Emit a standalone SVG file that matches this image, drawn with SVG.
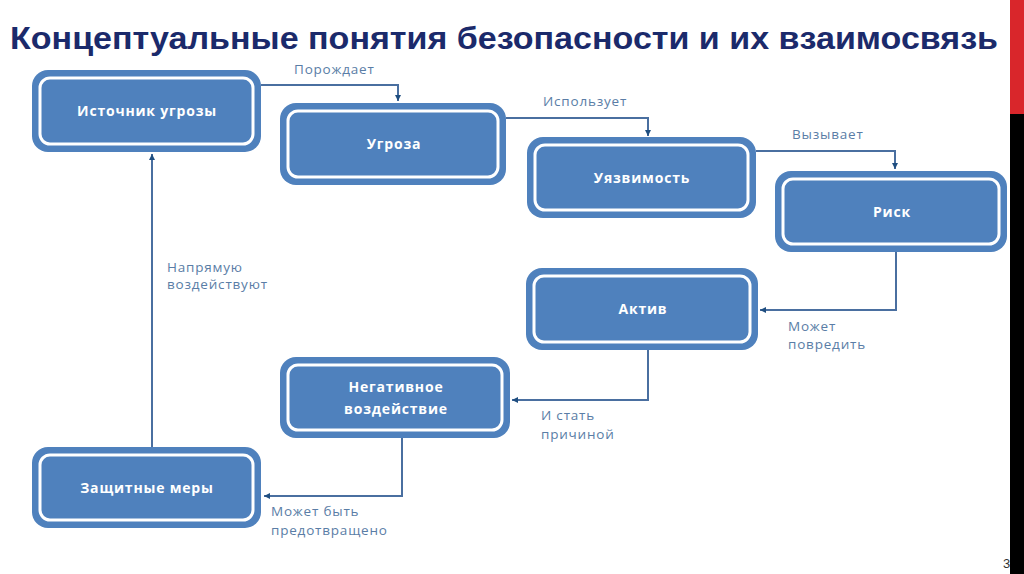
<svg xmlns="http://www.w3.org/2000/svg" width="1024" height="574" viewBox="0 0 1024 574">
<defs>
<style>
.o{fill:#4f81bd;}
.i{fill:#4f81bd;stroke:#ffffff;stroke-width:3;}
.t{font-family:"Open Sans","Liberation Sans",sans-serif;font-weight:bold;font-size:14px;letter-spacing:0.8px;fill:#ffffff;text-anchor:middle;}
.l{font-family:"Open Sans","Liberation Sans",sans-serif;font-size:13.5px;letter-spacing:0.8px;fill:#5a7da6;}
.c{fill:none;stroke:#4a6fa0;stroke-width:2;}
</style>
<marker id="a" viewBox="0 0 10 10" refX="10" refY="5" markerWidth="6" markerHeight="6" markerUnits="userSpaceOnUse" orient="auto">
<path d="M0,0 L10,5 L0,10 z" fill="#1f4e80"/>
</marker>
</defs>
<rect x="0" y="0" width="1024" height="574" fill="#ffffff"/>
<rect x="1010" y="0" width="14" height="114" fill="#d9262b"/>
<rect x="1010" y="114" width="14" height="460" fill="#000000"/>
<text x="1003" y="568" font-family="Liberation Sans,sans-serif" font-size="13" fill="#333333">3</text>
<text x="10" y="49" font-family="Liberation Sans,sans-serif" font-weight="bold" font-size="32" fill="#1b2a6b" textLength="988" lengthAdjust="spacingAndGlyphs">Концептуальные понятия безопасности и их взаимосвязь</text>

<g id="connectors">
<path class="c" d="M261,85 H398 V101" marker-end="url(#a)"/>
<path class="c" d="M506,118 H648 V136" marker-end="url(#a)"/>
<path class="c" d="M756,151 H895 V169" marker-end="url(#a)"/>
<path class="c" d="M896,252 V310 H760" marker-end="url(#a)"/>
<path class="c" d="M648,350 V400 H512" marker-end="url(#a)"/>
<path class="c" d="M402,438 V496 H264" marker-end="url(#a)"/>
<path class="c" d="M152,447 V154" marker-end="url(#a)"/>
<text class="l" x="294" y="74">Порождает</text>
<text class="l" x="543" y="106">Использует</text>
<text class="l" x="792" y="139">Вызывает</text>
<text class="l" x="788" y="331">Может</text>
<text class="l" x="788" y="349">повредить</text>
<text class="l" x="541" y="420">И стать</text>
<text class="l" x="541" y="439">причиной</text>
<text class="l" x="271" y="516">Может быть</text>
<text class="l" x="271" y="535">предотвращено</text>
<text class="l" x="167" y="272">Напрямую</text>
<text class="l" x="167" y="289">воздействуют</text>
</g>

<g id="n1">
<rect class="o" x="32" y="70" width="229" height="82" rx="16"/>
<rect class="i" x="40" y="78" width="213" height="66" rx="10"/>
<text class="t" x="147" y="116">Источник угрозы</text>
</g>
<g id="n2">
<rect class="o" x="280" y="103" width="226" height="82" rx="16"/>
<rect class="i" x="288" y="111" width="210" height="66" rx="10"/>
<text class="t" x="394" y="149">Угроза</text>
</g>
<g id="n3">
<rect class="o" x="527" y="137" width="229" height="81" rx="16"/>
<rect class="i" x="535" y="145" width="213" height="65" rx="10"/>
<text class="t" x="642" y="183">Уязвимость</text>
</g>
<g id="n4">
<rect class="o" x="775" y="171" width="232" height="81" rx="16"/>
<rect class="i" x="783" y="179" width="216" height="65" rx="10"/>
<text class="t" x="892" y="217">Риск</text>
</g>
<g id="n5">
<rect class="o" x="526" y="268" width="232" height="82" rx="16"/>
<rect class="i" x="534" y="276" width="216" height="66" rx="10"/>
<text class="t" x="643" y="314">Актив</text>
</g>
<g id="n6">
<rect class="o" x="280" y="357" width="230" height="81" rx="16"/>
<rect class="i" x="288" y="365" width="214" height="65" rx="10"/>
<text class="t" x="396" y="392">Негативное</text>
<text class="t" x="396" y="414">воздействие</text>
</g>
<g id="n7">
<rect class="o" x="32" y="447" width="229" height="81" rx="16"/>
<rect class="i" x="40" y="455" width="213" height="65" rx="10"/>
<text class="t" x="147" y="493">Защитные меры</text>
</g>
</svg>
